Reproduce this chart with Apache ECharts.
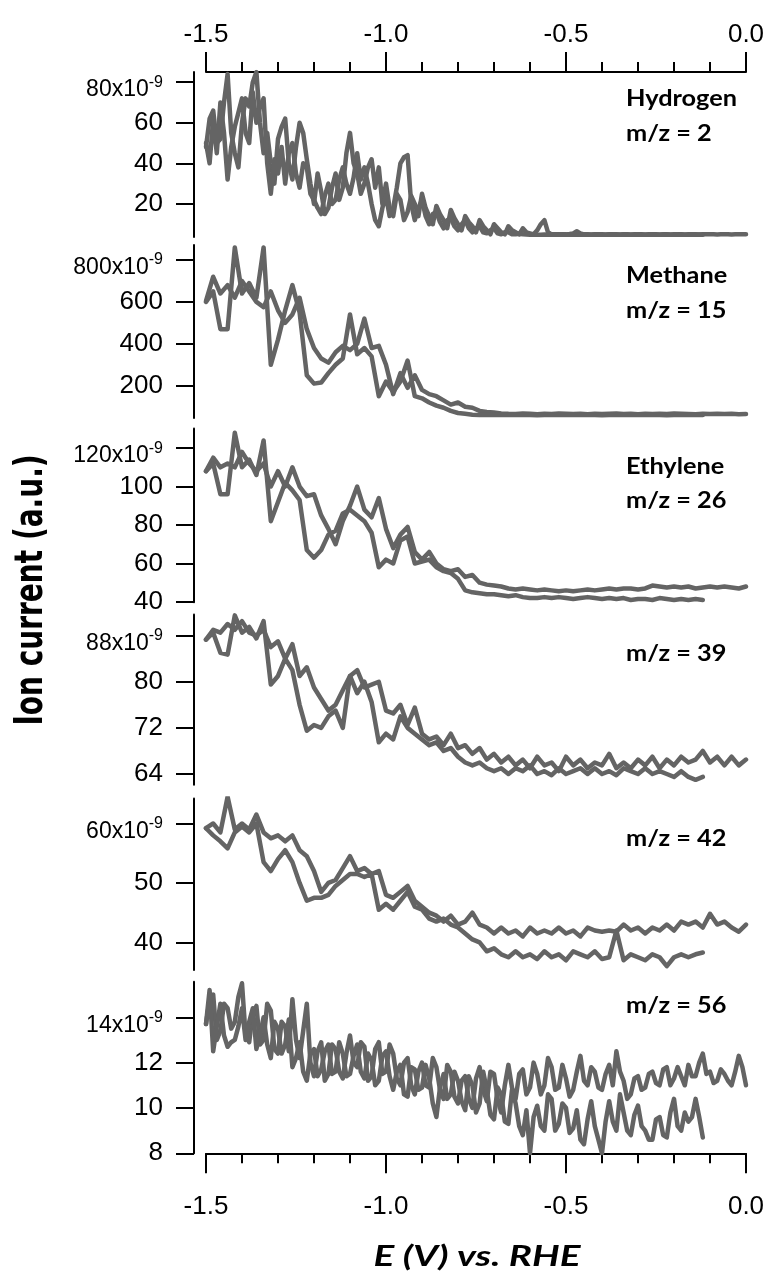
<!DOCTYPE html>
<html><head><meta charset="utf-8">
<script src="https://cdn.jsdelivr.net/npm/echarts@6/dist/echarts.min.js"></script>
<style>html,body{margin:0;padding:0;background:#fff}#c{width:768px;height:1275px}</style>
</head><body><div id="c"></div>
<script>
// Potential (V vs. RHE), sampled every 0.02 V
const E = [-1.50,-1.48,-1.46,-1.44,-1.42,-1.40,-1.38,-1.36,-1.34,-1.32,
  -1.30,-1.28,-1.26,-1.24,-1.22,-1.20,-1.18,-1.16,-1.14,-1.12,
  -1.10,-1.08,-1.06,-1.04,-1.02,-1.00,-0.98,-0.96,-0.94,-0.92,
  -0.90,-0.88,-0.86,-0.84,-0.82,-0.80,-0.78,-0.76,-0.74,-0.72,
  -0.70,-0.68,-0.66,-0.64,-0.62,-0.60,-0.58,-0.56,-0.54,-0.52,
  -0.50,-0.48,-0.46,-0.44,-0.42,-0.40,-0.38,-0.36,-0.34,-0.32,
  -0.30,-0.28,-0.26,-0.24,-0.22,-0.20,-0.18,-0.16,-0.14,-0.12,
  -0.10,-0.08,-0.06,-0.04,-0.02,0.00];

// Potential sampled every 0.01 V (for the noisiest traces)
const E1 = [-1.50,-1.49,-1.48,-1.47,-1.46,-1.45,-1.44,-1.43,-1.42,-1.41,
  -1.40,-1.39,-1.38,-1.37,-1.36,-1.35,-1.34,-1.33,-1.32,-1.31,
  -1.30,-1.29,-1.28,-1.27,-1.26,-1.25,-1.24,-1.23,-1.22,-1.21,
  -1.20,-1.19,-1.18,-1.17,-1.16,-1.15,-1.14,-1.13,-1.12,-1.11,
  -1.10,-1.09,-1.08,-1.07,-1.06,-1.05,-1.04,-1.03,-1.02,-1.01,
  -1.00,-0.99,-0.98,-0.97,-0.96,-0.95,-0.94,-0.93,-0.92,-0.91,
  -0.90,-0.89,-0.88,-0.87,-0.86,-0.85,-0.84,-0.83,-0.82,-0.81,
  -0.80,-0.79,-0.78,-0.77,-0.76,-0.75,-0.74,-0.73,-0.72,-0.71,
  -0.70,-0.69,-0.68,-0.67,-0.66,-0.65,-0.64,-0.63,-0.62,-0.61,
  -0.60,-0.59,-0.58,-0.57,-0.56,-0.55,-0.54,-0.53,-0.52,-0.51,
  -0.50,-0.49,-0.48,-0.47,-0.46,-0.45,-0.44,-0.43,-0.42,-0.41,
  -0.40,-0.39,-0.38,-0.37,-0.36,-0.35,-0.34,-0.33,-0.32,-0.31,
  -0.30,-0.29,-0.28,-0.27,-0.26,-0.25,-0.24,-0.23,-0.22,-0.21,
  -0.20,-0.19,-0.18,-0.17,-0.16,-0.15,-0.14,-0.13,-0.12,-0.11,
  -0.10,-0.09,-0.08,-0.07,-0.06,-0.05,-0.04,-0.03,-0.02,-0.01,0.00];

// x axis tick labels
const xTicks = [-1.5, -1.0, -0.5, 0.0];

// Hydrogen m/z = 2 (x1e-9), 0.01 V steps
const h2A = [48,62,66,50,52,70,84,55,45,38, 60,72,68,80,85,60,45,55,40,30,
  52,58,62,40,32,48,60,55,42,30, 20,35,26,15,18,28,35,22,28,45,
  55,40,35,25,30,38,42,28,38,20, 30,18,14,25,22,12,16,24,20,14,
  25,18,14,10,19,15,12,8,17,13, 10,7,14,11,9,6,12,9,7,5,
  10,8,6,5,9,7,6,5,8,6, 5.5,5,7,10,12,6,5,5,5,5.1,
  5,5.2,5.5,6.5,5.5,5,5,4.9,5,5.1, 5,4.9,5,5,5.1,4.9,5,5,4.9,5,
  5.1,5,4.9,5,5,5.1,4.9,5,5,4.9, 5,5.1,5,4.9,5,5,5,4.9,5,5.1, 5,5,4.9,5,5,5,4.9,5,5,5, 5];
const h2B = [50,40,62,45,70,55,32,48,58,65, 72,55,50,75,60,68,72,40,25,42,
  35,48,30,45,50,35,28,40,38,25, 22,18,15,24,30,20,22,32,38,30,
  25,33,45,32,38,30,20,12,9,18, 24,14,18,28,40,43,44,20,12,18,
  22,14,10,15,16,11,8,12,13,9, 7,10,12,8,6,8,9,6,5.5,7,
  8,5.5,5,6,6,5,5,5.3,5,4.9, 4.8,4.9,4.8,4.8,4.9,4.8,4.8,4.9,4.8,4.8,
  4.9,4.8,4.8,4.8,4.9,4.8,4.8,4.8,4.9,4.8, 4.8,4.8,4.9,4.8,4.8,4.8,4.9,4.8,4.8,4.8,
  4.9,4.8,4.8,4.8,4.9,4.8,4.8,4.8,4.9,4.8, 4.8,4.8,4.9,4.8,4.8,4.8,4.8,4.9,4.8];
const h2Ticks = [20,40,60,80];

// Methane m/z = 15, 0.02 V steps
const ch4A = [605,720,640,680,620,700,650,600,575,650, 560,500,540,620,470,380,330,310,360,390,
  370,400,520,380,390,300,160,260,190,250, 180,160,150,130,110,120,100,95,80,75,
  72,68,66,65,67,66,64,66,65,67, 66,65,66,64,66,65,66,67,65,66,
  64,66,65,66,65,67,66,65,64,66, 65,66,65,66,64,65];
const ch4B = [600,650,470,470,860,640,690,620,860,300, 420,560,680,550,250,210,215,260,300,330,
  540,350,380,340,150,220,170,220,320,150, 140,120,105,95,80,70,66,62,60,61,
  60,61,60,60,61,60,59,60,61,60, 60,60,61,60,60,59,60,61,60,60,
  60,61,60,60,59,60,61,60,60,60];
const ch4Ticks = [200,400,600,800];

// Ethylene m/z = 26, 0.02 V steps
const c2h4A = [108,115,110,112,110,118,112,108,112,100, 108,100,110,100,95,96,85,78,70,82,
  90,100,88,84,94,78,68,75,79,66, 62,66,60,57,56,57,53,54,50,49,
  48.5,48,47,46.5,47,46.5,46,46.5,46,45.5, 46,45.5,46,46.5,46,46.5,47,46.5,47,47,
  46.5,47,48.5,48,47.5,48,47.5,48,47,47.5, 48,47.5,48,47.5,47,48];
const c2h4B = [108,112,96,96,128,110,114,106,124,82, 92,102,98,93,67,63,67,75,77,86,
  88,85,82,76,58,62,60,72,74,60, 61,62,58,56,55,52,46,45,44.5,44,
  44,43.5,43,43.5,42.5,42,42,42.5,42,42.5, 42,41.5,42,42.5,42,41.5,42,41.5,42,41,
  41.5,41.5,41,42,41.5,41,41.5,41,41.5,41];
const c2h4Ticks = [40,60,80,100,120];

// m/z = 39, 0.02 V steps
const m39A = [87.3,89,88.5,90,89,90.5,88.5,88,89,86, 87,84,86.5,81,82.5,79,77,75,76,78.5,
  81,82,79,79.5,80,75,74.5,76,72.5,75.5, 71,70,70.5,69,71,68.5,69,67.5,68.5,66.5,
  67.5,66,67,65.5,66.5,65,67,65.5,66,64.5, 67,65.5,66.5,65,66,65.5,67.5,65,66,65,
  66.5,65.5,67,65,66.5,65.5,67,66,66.5,68, 66,67,65.5,67,65.5,66.5];
const m39B = [87.3,88.5,85,84.7,91.5,88.5,89.5,87.5,90.5,79.5, 81,84,82,76,71.5,72.5,72,74,75,72,
  81,78,80,76.5,69.5,71,70,74,72,71, 70,69,69.5,68,68.5,67,66,65.5,66,65,
  64.5,65,64,65,64.5,65.5,64,64.5,63.8,65, 64,64.5,65,64,65,64,64.5,63.8,65,64.5,
  64,65,64,64.5,64,63.5,64.5,63.5,63,63.5];
const m39Ticks = [64,72,80,88];

// m/z = 42, 0.02 V steps
const m42A = [59.2,60,58.5,64.5,59,60,59,61.5,58.5,57.5, 58,57,58,55.5,54.5,52,48.5,50,50.5,52.5,
  54.5,52,52.5,51.5,52,48,47.5,48.5,49.5,47, 46,45,44.5,43.5,44.5,43,43.5,45,43,42.5,
  41.5,42.5,41.5,42,41,42.5,41.5,42,41.5,42.5, 41.5,42,41,42.5,42,41.8,42,41.8,43,42,
  42.5,41.5,42.5,42,43,42,43.5,43,43.5,42.5, 44.8,43,43.5,42.5,41.8,43];
const m42B = [59.2,58,57,55.8,58.5,59.5,58.5,60,53.5,52, 54,55.5,53.5,50,47,47.5,47.5,48,49.5,50.5,
  51.5,51.5,51,51.5,45.5,46.5,45.5,47,48.5,46, 45.5,44,43.5,44,43,42.5,41.5,40.5,40,38.5,
  39,38,37.5,38.5,37.5,38,37.2,38.5,37.5,38, 37,38.5,38,37.5,38.5,37.2,37.5,42,37,38,
  37.5,37,38,37.5,36,37.5,38,37.5,38,38.3];
const m42Ticks = [40,50,60];

// m/z = 56, 0.01 V steps
const m56A = [13.7,14.8,15.0,13.0,13.4,14.6,14.4,13.5,13.8,14.9, 15.5,13.2,12.9,14.2,14.5,12.8,13.0,14.6,14.3,12.6,
  12.4,13.8,13.6,12.5,14.8,13.0,12.2,13.4,14.6,12.0, 11.4,12.5,12.9,11.2,11.5,12.8,12.6,11.6,11.3,12.4,
  13.2,12.0,11.8,12.9,12.7,11.2,11.4,12.6,12.9,11.5, 11.6,12.8,12.4,11.3,11.0,12.0,12.2,11.0,10.6,11.6,
  12.0,11.0,10.9,12.2,11.8,10.8,10.4,11.9,11.6,10.5, 10.2,11.2,11.4,10.4,10.0,11.3,11.8,10.8,10.3,11.6,
  11.5,10.4,9.8,11.0,11.9,10.9,10.4,11.5,11.7,10.6, 10.9,12.0,11.5,10.6,11.0,12.2,11.8,10.8,10.9,11.9,
  11.3,10.5,10.8,11.6,12.3,11.2,11.0,11.8,11.6,10.9, 10.8,11.5,11.9,11.0,12.5,11.6,11.2,10.4,10.6,11.3,
  11.4,10.8,10.9,11.5,11.6,11.1,11.0,11.7,11.8,11.0, 11.3,11.8,11.4,11.0,11.9,11.4,11.4,12.0,12.4,11.5,
  11.6,11.1,11.2,11.7,11.5,11.2,11.0,11.6,12.3,11.8, 11.0];
const m56B = [13.7,15.2,12.5,13.6,14.6,13.2,12.7,12.9,13.0,13.6, 14.4,13.0,13.8,14.4,12.6,13.2,14.0,12.8,12.2,13.8,
  13.5,12.4,12.8,13.9,11.8,12.2,12.9,11.6,11.2,12.4, 12.6,11.4,11.7,12.5,12.8,11.5,11.6,12.9,12.4,11.4,
  11.5,12.3,12.8,11.6,11.3,12.4,12.1,11.0,11.2,12.3, 12.5,11.4,10.8,11.6,11.9,10.6,10.5,11.8,11.7,10.8,
  10.9,11.9,11.3,10.2,9.6,10.9,11.5,10.4,10.6,11.6, 11.2,10.3,9.9,11.4,11.0,9.8,10.2,11.6,10.8,9.7,
  9.5,10.9,10.6,9.4,9.3,10.8,10.2,9.2,8.8,9.9, 8.0,9.6,10.1,9.2,9.0,10.6,10.4,9.0,9.3,10.2,
  10.0,8.9,9.1,9.9,8.6,8.4,9.5,10.3,9.2,8.6, 8.0,9.4,10.3,9.4,9.0,10.6,9.8,9.0,8.8,9.7,
  10.1,9.2,9.0,8.6,8.6,9.5,9.6,8.8,8.7,9.8, 10.4,9.2,9.0,9.8,9.4,9.6,10.4,9.6,8.7];
const m56Ticks = [8,10,12,14];

// Panel labels
const panelLabels = [
  ['Hydrogen', 'm/z = 2'],
  ['Methane', 'm/z = 15'],
  ['Ethylene', 'm/z = 26'],
  ['m/z = 39'],
  ['m/z = 42'],
  ['m/z = 56']
];
const yTitle = 'Ion current (a.u.)';
const xTitle = 'E (V) vs. RHE';
const expSuffix = 'x10';
const expPower = '-9';

// ---------- layout ----------
const panels = [
  {X:E1, A:h2A,  B:h2B,  ticks:h2Ticks,  top:72,    height:165,   min:3.7,   max:85,    labelY:[99,134]},
  {X:E,  A:ch4A, B:ch4B, ticks:ch4Ticks, top:245,   height:173,   min:46,    max:871.6, labelY:[276,311]},
  {X:E,  A:c2h4A,B:c2h4B,ticks:c2h4Ticks,top:428.5, height:173.8, min:39.8,  max:130.2, labelY:[467,501]},
  {X:E,  A:m39A, B:m39B, ticks:m39Ticks, top:614.5, height:170.2, min:62.15, max:91.65, labelY:[654]},
  {X:E,  A:m42A, B:m42B, ticks:m42Ticks, top:798.5, height:171.5, min:35.36, max:64.2,  labelY:[839]},
  {X:E1, A:m56A, B:m56B, ticks:m56Ticks, top:981.7, height:171.6, min:8,     max:15.57, labelY:[1006]}
];
const NUMFONT = '"Liberation Sans", Arial, sans-serif';
const LINE = '#646464';

const grids = [], xAxes = [], yAxes = [], series = [], graphics = [];
const n = panels.length;
panels.forEach((p, i) => {
  grids.push({left:206, width:540, top:p.top, height:p.height, containLabel:false, outerBoundsMode:'none'});
  const topTick = Math.max(...p.ticks);
  if (i === 0 || i === n - 1) {
    xAxes.push({
      gridIndex:i, type:'value', position: i === 0 ? 'top' : 'bottom',
      min:-1.5, max:0, interval:0.5,
      axisLine:{show:true, onZero:false, lineStyle:{color:'#000', width:2}},
      axisTick:{show:true, length:20, lineStyle:{color:'#000', width:2}},
      minorTick:{show:true, splitNumber:5, length:10, lineStyle:{color:'#000', width:2}},
      axisLabel:{margin: i === 0 ? 24 : 41, fontSize:26, fontFamily:NUMFONT, color:'#000',
        customValues:xTicks, formatter:v => Number(v).toFixed(1)},
      splitLine:{show:false}, minorSplitLine:{show:false}
    });
  } else {
    xAxes.push({gridIndex:i, type:'value', min:-1.5, max:0, show:false});
  }
  yAxes.push({
    gridIndex:i, type:'value', min:p.min, max:p.max, offset:12,
    axisLine:{show:true, onZero:false, lineStyle:{color:'#000', width:2}},
    axisTick:{show:true, length:18, customValues:p.ticks, lineStyle:{color:'#000', width:2}},
    axisLabel:{show:true, margin:31, customValues:p.ticks, fontSize:26, fontFamily:NUMFONT, color:'#000',
      formatter: v => (v === topTick ? '{e|' + v + expSuffix + '}{s|' + expPower + '}' : String(v)),
      rich:{
        e:{fontSize:23, fontFamily:NUMFONT, color:'#000', lineHeight:23, verticalAlign:'bottom'},
        s:{fontSize:16, fontFamily:NUMFONT, color:'#000', lineHeight:39, verticalAlign:'middle'}
      }},
    splitLine:{show:false}
  });
  [p.A, p.B].forEach(vals => {
    series.push({
      type:'line', xAxisIndex:i, yAxisIndex:i, showSymbol:false, symbol:'none',
      data: vals.map((v, k) => [p.X[k], v]),
      lineStyle:{color:LINE, width:4.5, join:'round', cap:'round'},
      silent:true, animation:false, z:2
    });
  });
  panelLabels[i].forEach((t, j) => {
    graphics.push({type:'text', x:626, y:p.labelY[j], scaleX:1.15,
      style:{text:t, fontFamily:'Lato, "Open Sans", sans-serif', fontWeight:'bold', fontSize:22,
        fill:'#000', align:'left', verticalAlign:'middle'}});
  });
});

graphics.push({type:'text', x:32, y:590, rotation:Math.PI/2, scaleY:1.4,
  style:{text:yTitle, fontFamily:'"DejaVu Sans", sans-serif', fontWeight:'bold', fontSize:28,
    fill:'#000', align:'center', verticalAlign:'middle'}});
graphics.push({type:'text', x:477, y:1257, scaleX:1.38,
  style:{text:xTitle, fontFamily:'Lato, "Open Sans", sans-serif', fontWeight:'bold', fontStyle:'italic', fontSize:28,
    fill:'#000', align:'center', verticalAlign:'middle'}});

const chart = echarts.init(document.getElementById('c'), null, {renderer:'canvas'});
chart.setOption({
  animation:false,
  backgroundColor:'#fff',
  grid:grids, xAxis:xAxes, yAxis:yAxes, series:series, graphic:graphics
});
</script></body></html>
